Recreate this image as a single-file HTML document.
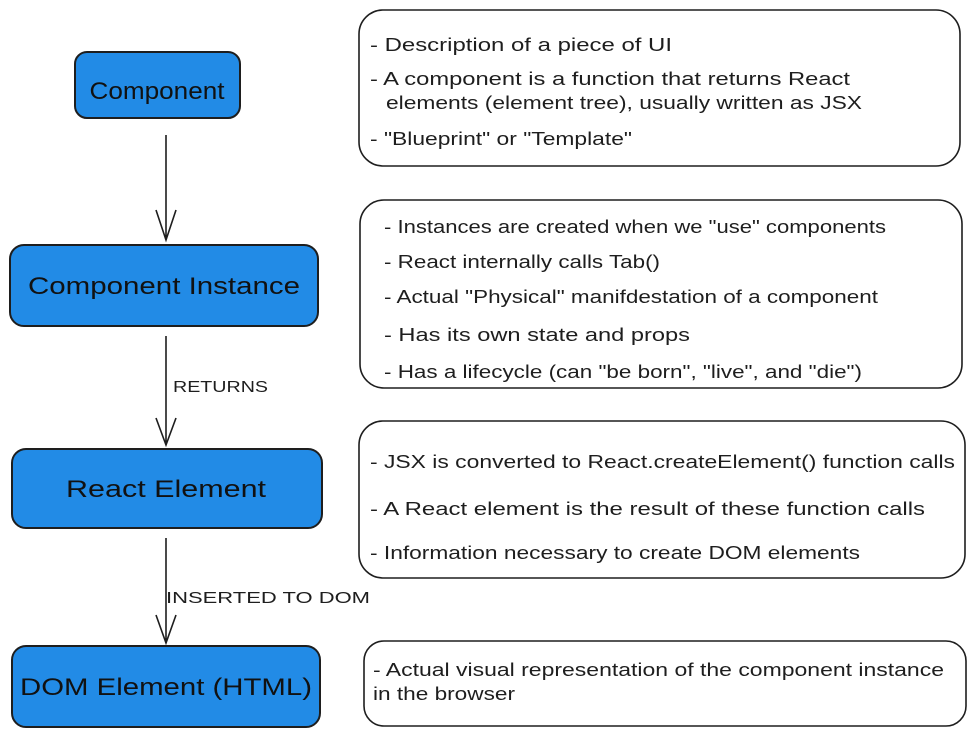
<!DOCTYPE html>
<html><head><meta charset="utf-8"><style>html,body{margin:0;padding:0;background:#fff}svg{display:block}</style></head>
<body>
<svg width="978" height="737" xmlns="http://www.w3.org/2000/svg" font-family="Liberation Sans, DejaVu Sans, sans-serif" fill="#1e1e1e">
<g fill="#228be6" stroke="#1e1e1e" stroke-width="2">
<rect x="75" y="52" width="165" height="66" rx="12"/>
<rect x="10" y="245" width="308" height="81" rx="14"/>
<rect x="12" y="449" width="310" height="79" rx="14"/>
<rect x="12" y="646" width="308" height="81" rx="14"/>
</g>
<g fill="none" stroke="#1e1e1e" stroke-width="1.6">
<rect x="359" y="10" width="601" height="156" rx="24"/>
<rect x="360" y="200" width="602" height="188" rx="24"/>
<rect x="359" y="421" width="606" height="157" rx="24"/>
<rect x="364" y="641" width="602" height="85" rx="20"/>
<path d="M166 135 L166 240 M156 210 L166 240 L176 210"/>
<path d="M166 336 L166 445 M156 418 L166 445 L176 418"/>
<path d="M166 538 L166 643 M156 615 L166 643 L176 615"/>
</g>
<g font-size="24" text-anchor="middle" fill="#111">
<text x="157" y="99" textLength="135" lengthAdjust="spacingAndGlyphs">Component</text>
<text x="164" y="294" textLength="272" lengthAdjust="spacingAndGlyphs">Component Instance</text>
<text x="166" y="497" textLength="200" lengthAdjust="spacingAndGlyphs">React Element</text>
<text x="166" y="695" textLength="292" lengthAdjust="spacingAndGlyphs">DOM Element (HTML)</text>
</g>
<g font-size="16">
<text x="173" y="392" textLength="95" lengthAdjust="spacingAndGlyphs">RETURNS</text>
<text x="166" y="603" textLength="204" lengthAdjust="spacingAndGlyphs">INSERTED TO DOM</text>
</g>
<g font-size="18" lengthAdjust="spacingAndGlyphs">
<text x="370" y="51" textLength="302" lengthAdjust="spacingAndGlyphs">- Description of a piece of UI</text>
<text x="370" y="85" textLength="480" lengthAdjust="spacingAndGlyphs">- A component is a function that returns React</text>
<text x="386" y="109" textLength="476" lengthAdjust="spacingAndGlyphs">elements (element tree), usually written as JSX</text>
<text x="370" y="145" textLength="262" lengthAdjust="spacingAndGlyphs">- "Blueprint" or "Template"</text>
<text x="384" y="233" textLength="502" lengthAdjust="spacingAndGlyphs">- Instances are created when we "use" components</text>
<text x="384" y="268" textLength="276" lengthAdjust="spacingAndGlyphs">- React internally calls Tab()</text>
<text x="384" y="303" textLength="494" lengthAdjust="spacingAndGlyphs">- Actual "Physical" manifdestation of a component</text>
<text x="384" y="341" textLength="306" lengthAdjust="spacingAndGlyphs">- Has its own state and props</text>
<text x="384" y="378" textLength="478" lengthAdjust="spacingAndGlyphs">- Has a lifecycle (can "be born", "live", and "die")</text>
<text x="370" y="468" textLength="585" lengthAdjust="spacingAndGlyphs">- JSX is converted to React.createElement() function calls</text>
<text x="370" y="515" textLength="555" lengthAdjust="spacingAndGlyphs">- A React element is the result of these function calls</text>
<text x="370" y="559" textLength="490" lengthAdjust="spacingAndGlyphs">- Information necessary to create DOM elements</text>
<text x="373" y="676" textLength="571" lengthAdjust="spacingAndGlyphs">- Actual visual representation of the component instance</text>
<text x="373" y="700" textLength="142" lengthAdjust="spacingAndGlyphs">in the browser</text>
</g>
</svg>
</body></html>
